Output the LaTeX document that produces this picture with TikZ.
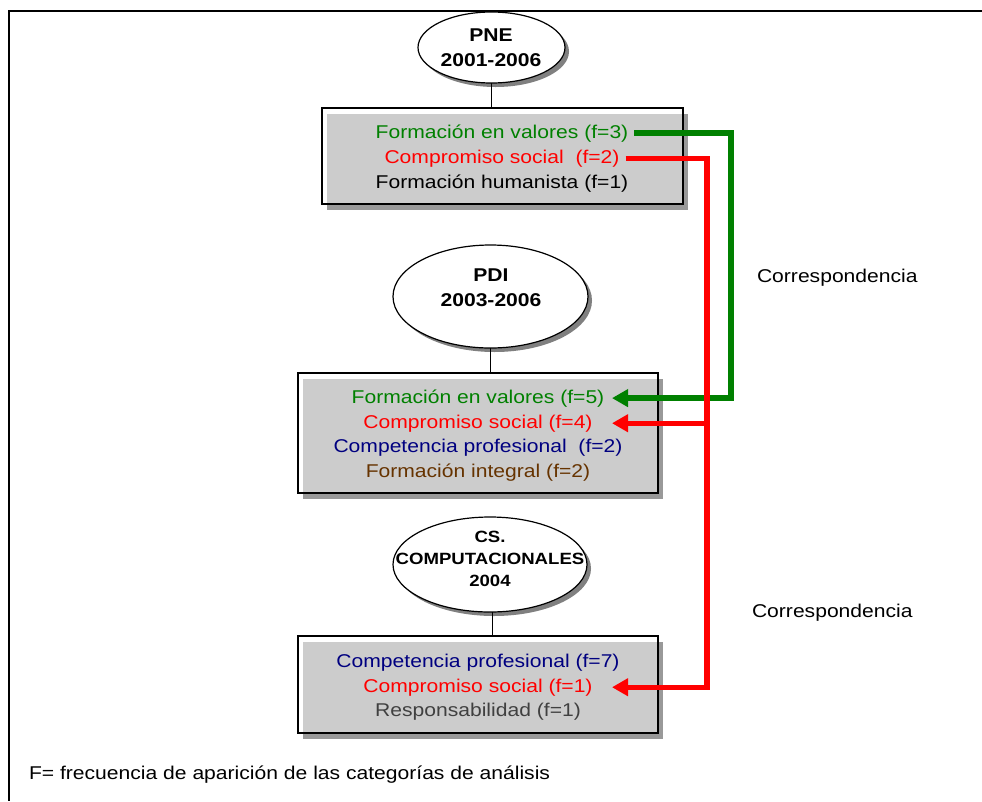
\documentclass[tikz,border=0pt]{standalone}
\usepackage{fontspec}
\setmainfont{Liberation Sans}[FakeStretch=1.14]
\usetikzlibrary{shapes.geometric,shadows,arrows.meta}
\definecolor{fgreen}{RGB}{0,128,0}
\definecolor{fred}{RGB}{255,0,0}
\definecolor{fnavy}{RGB}{0,0,128}
\definecolor{fbrown}{RGB}{102,51,0}
\definecolor{fgray}{RGB}{64,64,64}
\definecolor{ovalshadow}{RGB}{128,128,128}
\definecolor{panelshadow}{RGB}{153,153,153}
\begin{document}
\begin{tikzpicture}[x=1pt,y=-1pt,
  every node/.style={inner sep=0pt, outer sep=0pt},
  txt/.style={font=\fontsize{18.5}{25}\selectfont, anchor=base},
  ttl/.style={font=\fontsize{18.5}{25}\selectfont\bfseries, align=center},
  smallttl/.style={font=\fontsize{16.3}{22}\selectfont\bfseries, align=center},
  oval/.style={ellipse, draw=black, line width=1.2pt, fill=white,
    drop shadow={shadow xshift=4pt, shadow yshift=-4pt, fill=ovalshadow, draw=none, opacity=1}},
  panel/.style={rectangle, draw=black, line width=2pt, fill=white, fill opacity=0.5,
    drop shadow={shadow xshift=5pt, shadow yshift=-6pt, fill=panelshadow, draw=none, opacity=1}},
  stem/.style={draw=black, line width=1pt},
  link/.style={line width=5.4pt, line join=miter, -{Triangle[length=16pt,width=17pt]}},
]
\useasboundingbox (0,0) rectangle (982,801);
\fill[white] (0,0) rectangle (982,801);

% outer frame (top and left edges)
\draw[line width=2pt] (982,11) -- (9,11) -- (9,801);

% ovals
\node[oval, minimum width=147, minimum height=71] (pne) at (491.5,47.5) {};
\node[oval, minimum width=195, minimum height=103] (pdi) at (490.5,296.5) {};
\node[oval, minimum width=194, minimum height=95] (cs) at (490,564.5) {};

% panels
\node[panel, minimum width=361, minimum height=96] (pnebox) at (502.5,156) {};
\node[panel, minimum width=360, minimum height=120] (pdibox) at (478,433) {};
\node[panel, minimum width=360, minimum height=97] (csbox) at (478,684.5) {};

% stems from ovals to panels
\draw[stem] (pne.south) -- (pne.south |- pnebox.north);
\draw[stem] (pdi.south) -- (pdi.south |- pdibox.north);
\draw[stem] ([xshift=2]cs.south) -- ([xshift=2]cs.south |- csbox.north);

% oval titles
\node[ttl] (pnet) at (491,48) {PNE\\2001-2006};
\node[ttl] (pdit) at (491,288) {PDI\\2003-2006};
\node[smallttl] (cst) at (490,559) {CS.\\COMPUTACIONALES\\2004};

% panel contents
\node[txt, text=fgreen] (pv1) at (502,138) {Formación en valores (f=3)};
\node[txt, text=fred] (pc1) at (502,163) {Compromiso social\ \ (f=2)};
\node[txt, text=black] (ph1) at (502,188) {Formación humanista (f=1)};

\node[txt, text=fgreen] (dv1) at (478,403) {Formación en valores (f=5)};
\node[txt, text=fred] (dc2) at (478,428) {Compromiso social (f=4)};
\node[txt, text=fnavy] (dp3) at (478,452) {Competencia profesional\ \ (f=2)};
\node[txt, text=fbrown] (di4) at (478,477) {Formación integral (f=2)};

\node[txt, text=fnavy] (bp1) at (478,667) {Competencia profesional (f=7)};
\node[txt, text=fred] (bc2) at (478,692) {Compromiso social (f=1)};
\node[txt, text=fgray] (br3) at (478,716) {Responsabilidad (f=1)};

% side labels and note
\node[txt, anchor=base west] (corr1) at (757,282) {Correspondencia};
\node[txt, anchor=base west] (corr2) at (752,617) {Correspondencia};
\node[txt, anchor=base west] (note) at (29,779) {F= frecuencia de aparición de las categorías de análisis};

% correspondence links
\coordinate (gx) at (731,0);
\coordinate (rx) at (707,0);
\coordinate (tipx) at (612,0);
\draw[link, fgreen] ([xshift=6]pv1.east) -| (gx |- dv1.east) -- (tipx |- dv1.east);
\draw[link, fred] ([xshift=6]pc1.east) -| (rx |- bc2.east) -- (tipx |- bc2.east);
\draw[link, fred] (rx |- dc2.east) -- (tipx |- dc2.east);
\end{tikzpicture}
\end{document}
